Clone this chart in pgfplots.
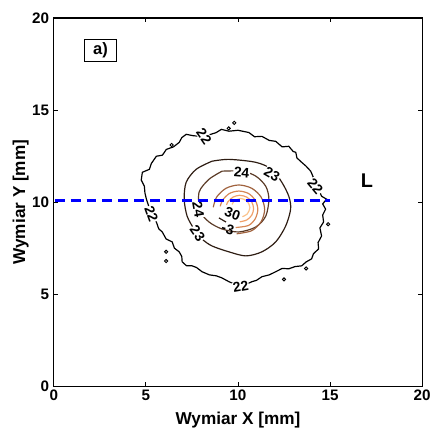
\documentclass[border=0pt]{standalone}
\usepackage{pgfplots}
\pgfplotsset{compat=1.18}
\usepackage{fontspec}
\setmainfont{Liberation Sans}
\definecolor{c23}{RGB}{45,28,18}
\definecolor{c24}{RGB}{90,58,38}
\definecolor{c25}{RGB}{160,98,62}
\definecolor{c26}{RGB}{215,135,85}
\definecolor{c27}{RGB}{240,160,105}
\definecolor{c28}{RGB}{250,195,140}
\begin{document}
\begin{tikzpicture}
\begin{axis}[
  at={(0,0)}, anchor=south west,
  scale only axis, width=277.5bp, height=277.5bp,
  xmin=0, xmax=20, ymin=0, ymax=20,
  xtick={0,5,10,15,20}, ytick={0,5,10,15,20},
  tick align=inside, major tick length=3bp,
  tick style={black, line width=0.6pt},
  axis line style={line width=0.9pt},
  /pgf/number format/assume math mode=true,
  ticklabel style={font=\fontsize{11.5}{13}\selectfont\bfseries},
  xticklabel style={yshift=1bp},
  xlabel={Wymiar X [mm]}, ylabel={Wymiar Y [mm]},
  label style={font=\fontsize{13}{15}\selectfont\bfseries},
  xlabel style={at={(axis description cs:0.5,-0.058)}, anchor=north},
  ylabel style={at={(axis description cs:-0.09,0.5)}, anchor=center},
  clip=false,
]
% contour 22
\addplot[black, line width=0.9pt] coordinates {
(8.81,13.77)(9.1,13.95)(9.51,13.85)(10.0,13.9)(10.59,13.78)(10.9,13.55)(11.30,13.57)(11.7,13.35)(12.05,13.30)(12.4,13.0)(12.76,13.03)(13.0,12.75)(13.14,12.70)(13.2,12.4)(13.46,12.16)(13.7,11.95)(13.95,11.68)(14.2,11.1)(14.54,10.32)(14.81,10.16)(14.6,9.9)(14.76,9.62)(14.6,9.3)(14.65,8.92)(14.45,8.6)(14.54,8.16)(14.35,7.8)(14.38,7.46)(14.1,7.2)(14.0,6.92)(13.7,6.75)(13.46,6.54)(13.1,6.5)(12.76,6.38)(12.4,6.4)(12.05,6.22)(11.7,6.05)(11.30,5.95)(11.0,5.75)(10.76,5.68)(10.15,5.4)(9.51,5.68)(9.1,5.9)(8.81,6.0)(8.45,6.05)(8.05,6.22)(7.75,6.45)(7.51,6.54)(7.2,6.55)(6.97,6.76)(6.95,7.05)(6.81,7.30)(6.55,7.5)(6.43,7.84)(6.1,8.0)(5.89,8.38)(5.7,8.55)(5.57,8.92)(5.3,9.35)(5.03,10.16)(4.95,10.5)(4.92,10.86)(4.75,11.2)(4.81,11.62)(5.19,11.78)(5.3,12.1)(5.57,12.49)(5.9,12.55)(6.11,12.86)(6.5,13.0)(6.81,13.24)(6.95,13.5)(7.19,13.68)(7.6,13.6)(8.16,13.57)(8.81,13.77)
};
% small islands of 22
\addplot[only marks, mark=o, mark size=1.2pt, black, mark options={line width=0.7pt}] coordinates {
(9.8,14.3)(9.5,14.0)(6.4,13.1)(14.9,8.8)(6.1,7.3)(6.1,6.8)(13.7,6.4)(12.5,5.8)
};
% contour 23
\addplot[c23, line width=0.9pt, smooth] coordinates {
(8.59,12.22)(9.51,12.32)(10.97,12.16)(11.84,11.78)(12.38,11.08)(12.76,10.32)(12.86,9.62)(12.59,8.70)(12.05,7.84)(11.30,7.30)(10.43,7.08)(9.51,7.30)(8.59,7.62)(8.05,8.0)(7.62,8.54)(7.24,9.24)(7.08,10.16)(7.19,11.08)(7.73,11.78)(8.59,12.22)
};
% contour 24
\addplot[c24, line width=0.9pt, smooth] coordinates {
(9.14,11.68)(10.22,11.68)(10.97,11.41)(11.51,10.86)(11.68,10.16)(11.51,9.24)(10.97,8.65)(10.05,8.38)(9.14,8.54)(8.43,8.92)(7.95,9.51)(7.89,10.54)(8.43,11.24)(9.14,11.68)
};
% inner arcs
\addplot[c25, line width=0.9pt, smooth] coordinates {
(9.93,8.28)(10.75,8.45)(11.26,8.94)(11.45,9.6)(11.26,10.27)(10.75,10.75)(10.05,10.93)(9.35,10.75)(8.84,10.27)(8.66,9.72)
};
\addplot[c26, line width=0.9pt, smooth] coordinates {
(9.87,8.62)(10.57,8.73)(10.94,9.10)(11.08,9.6)(10.94,10.10)(10.57,10.47)(10.05,10.6)(9.54,10.47)(9.16,10.10)(9.04,9.77)
};
\addplot[c27, line width=0.9pt, smooth] coordinates {
(10.1,8.93)(10.48,9.03)(10.75,9.29)(10.85,9.65)(10.75,10.01)(10.48,10.27)(10.1,10.37)(9.73,10.27)(9.45,10.01)(9.38,9.84)
};
\addplot[c28, line width=0.9pt, smooth] coordinates {
(10.24,9.21)(10.50,9.35)(10.65,9.7)(10.50,10.05)(10.15,10.2)(9.80,10.05)(9.68,9.87)
};
\addplot[c23, line width=0.9pt] coordinates {(8.97,9.14)(9.35,8.92)};
% contour labels
\begin{scope}[every node/.style={font=\fontsize{10.5}{11}\selectfont\bfseries, fill=white, inner sep=0.5pt}]
\node[rotate=-55] at (axis cs:8.16,13.57) {22};
\node[rotate=-50] at (axis cs:14.2,10.85) {22};
\node[rotate=-70] at (axis cs:5.3,9.35) {22};
\node[rotate=10] at (axis cs:10.15,5.4) {22};
\node[rotate=-5] at (axis cs:10.2,11.62) {24};
\node[rotate=-30] at (axis cs:11.85,11.5) {23};
\node[rotate=-80] at (axis cs:7.85,9.6) {24};
\node[rotate=-55] at (axis cs:7.8,8.3) {23};
\node[rotate=-20, fill=none] at (axis cs:9.7,9.35) {30};
\node[rotate=-15, fill=none] at (axis cs:9.45,8.55) {-3};
\end{scope}
% line L
\addplot[blue, line width=2pt, dash pattern=on 7.5bp off 4.5bp] coordinates {(0.05,10.1)(15.0,10.1)};
\node[font=\fontsize{15}{17}\selectfont\bfseries] at (axis cs:17.0,11.15) {L};
\node[draw, line width=0.6pt, minimum width=24bp, minimum height=16.5bp, inner sep=1pt, font=\fontsize{12.5}{14}\selectfont\bfseries] at (axis cs:2.54,18.22) {a)};
\end{axis}
\useasboundingbox (-40.5bp,-30bp) rectangle (285.75bp,291bp);
\end{tikzpicture}
\end{document}
